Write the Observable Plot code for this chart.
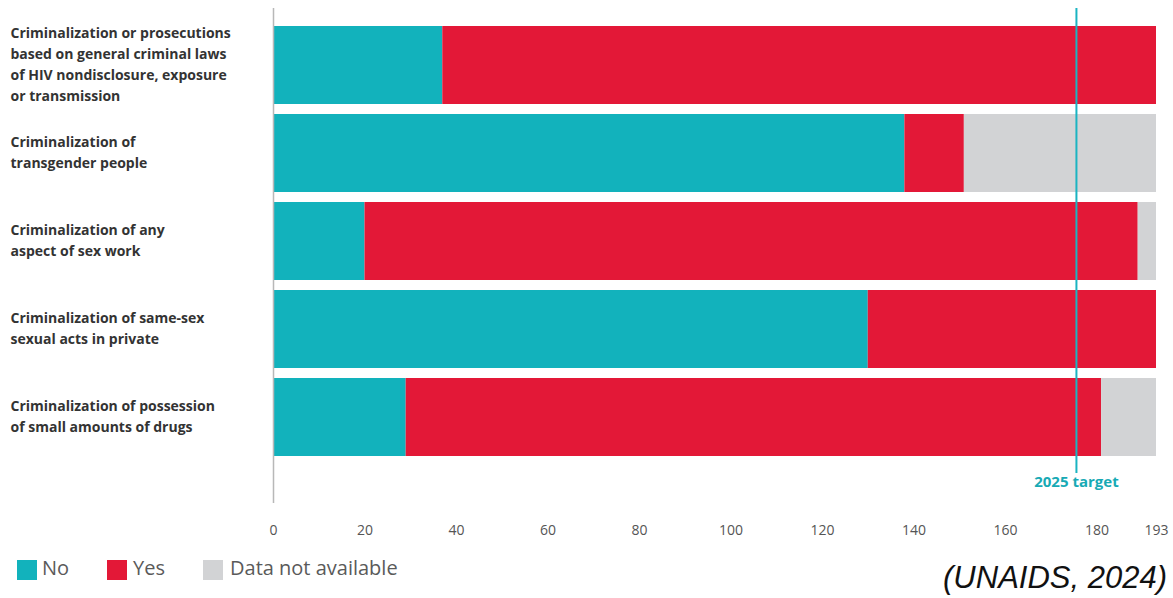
<!DOCTYPE html>
<html>
<head>
<meta charset="utf-8">
<script src="https://cdn.jsdelivr.net/npm/d3@7"></script>
<script src="https://cdn.jsdelivr.net/npm/@observablehq/plot@0.6"></script>
<style>
  html, body { margin: 0; padding: 0; background: #fff; }
  #wrap { position: relative; width: 1173px; height: 598px; overflow: hidden; }
  #legend { position: absolute; left: 0; top: 558px; height: 26px; width: 600px;
            font-family: "Open Sans", sans-serif; font-size: 20px; color: #5a5a5a; }
  .sw { position: absolute; top: 2px; width: 20px; height: 20px; }
  .lt { position: absolute; top: -2px; line-height: 24px; }
  #caption { position: absolute; right: 6px; top: 560px; font-family: "Liberation Sans", Arial, sans-serif;
             font-style: italic; font-size: 31px; color: #111; line-height: 36px; }
</style>
</head>
<body>
<div id="wrap">
  <div id="chart"></div>
  <div id="legend"></div>
  <div id="caption">(UNAIDS, 2024)</div>
</div>
<script>
const categories = [
  "Criminalization or prosecutions\nbased on general criminal laws\nof HIV nondisclosure, exposure\nor transmission",
  "Criminalization of\ntransgender people",
  "Criminalization of any\naspect of sex work",
  "Criminalization of same-sex\nsexual acts in private",
  "Criminalization of possession\nof small amounts of drugs"
];
const noValues  = [37, 138, 20, 130, 29];
const yesValues = [156, 13, 169, 63, 152];
const naValues  = [0, 42, 4, 0, 12];
const statuses = ["No", "Yes", "Data not available"];
const statusColors = ["#12b2bc", "#e31837", "#d2d3d5"];
const xTicks = [0, 20, 40, 60, 80, 100, 120, 140, 160, 180, 193];
const totalCountries = 193;
const targetValue = 175.5;
const targetLabel = "2025 target";

const seriesByStatus = [noValues, yesValues, naValues];
const rows = [];
categories.forEach((c, i) => {
  statuses.forEach((s, j) => rows.push({category: c, status: s, value: seriesByStatus[j][i]}));
});

const chart = Plot.plot({
  width: 1173,
  height: 548,
  marginLeft: 273,
  marginRight: 17,
  marginTop: 8,
  marginBottom: 45,
  style: {fontFamily: "Open Sans, sans-serif", background: "#fff"},
  x: {domain: [0, totalCountries], ticks: xTicks, tickSize: 0, tickPadding: 22, label: null},
  y: {domain: categories, range: [21, 461], paddingInner: 0.1136, paddingOuter: 0.0568, axis: null},
  color: {domain: statuses, range: statusColors},
  marks: [
    Plot.barX(rows, Plot.stackX({y: "category", x: "value", fill: "status", order: statuses})),
    Plot.ruleX([0], {stroke: "#b8b8b8", strokeWidth: 1.5}),
    Plot.ruleX([targetValue], {stroke: "#1ab4c2", strokeWidth: 2, insetBottom: 30}),
    Plot.text([targetLabel], {x: () => targetValue, frameAnchor: "bottom", dy: -17, text: d => d,
      fill: "#17aab5", fontWeight: "bold", fontSize: 15}),
    Plot.text(categories, {y: d => d, text: d => d, frameAnchor: "left", dx: -263, dy: -3,
      textAnchor: "start", lineAnchor: "middle", lineHeight: 1.5, fontSize: 14, fontWeight: "bold", fill: "#333"})
  ]
});
chart.querySelectorAll("g[aria-label='x-axis tick label'] text, g[aria-label='x-axis tick label']").forEach(el => {
  el.setAttribute("font-size", 14);
  el.setAttribute("fill", "#555");
});
document.getElementById("chart").appendChild(chart);

const legend = document.getElementById("legend");
const legendX = [[17, 42], [107, 133], [203, 230]];
statuses.forEach((s, i) => {
  const sw = document.createElement("div");
  sw.className = "sw"; sw.style.left = legendX[i][0] + "px"; sw.style.background = statusColors[i];
  const t = document.createElement("div");
  t.className = "lt"; t.style.left = legendX[i][1] + "px"; t.textContent = s;
  legend.appendChild(sw); legend.appendChild(t);
});
</script>
</body>
</html>
